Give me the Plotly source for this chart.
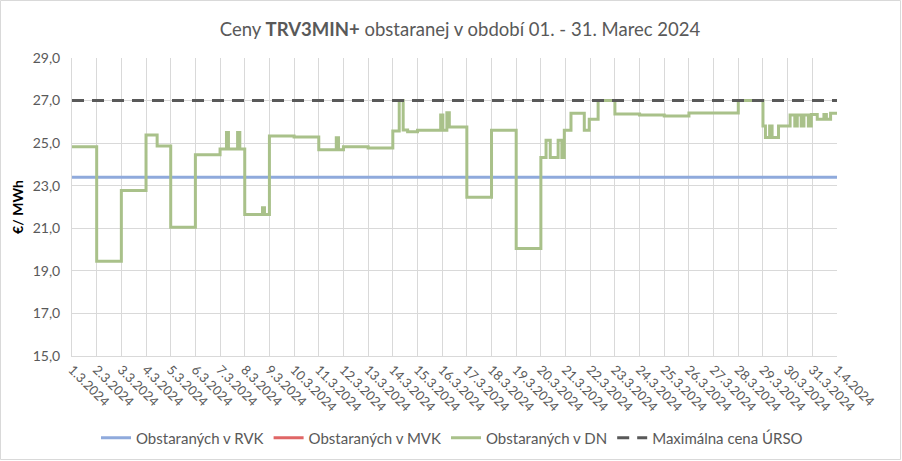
import plotly.graph_objects as go
import pandas as pd

# ---- data ----
month_start = "2024-03-01"
tick_labels = [f"{d}.3.2024" for d in range(1, 32)] + ["1.4.2024"]

rvk_value = 23.4
ursu_max = 27.0

# DN: change points (day offset from 1.3.2024 00:00) and value from that point on
dn_days = [0.0, 1.0, 2.0, 3.0, 3.45, 4.0, 5.0, 6.0, 6.26, 6.34, 6.71, 6.8,
           7.0, 7.72, 7.8, 8.0, 9.0, 10.0, 10.71, 10.8, 11.0, 12.0,
           13.0, 13.26, 13.42, 13.6, 14.0, 14.94, 15.03, 15.19, 15.29,
           16.0, 17.0, 18.0, 19.0, 19.21, 19.38, 19.7, 19.85, 19.95,
           20.22, 20.76, 20.96, 21.32, 22.0, 23.0, 24.0, 25.0, 27.0,
           28.0, 28.1, 28.27, 28.37, 28.63, 29.1, 29.29, 29.39, 29.55,
           29.66, 29.84, 29.96, 30.2, 30.47, 30.57, 30.74, 31.0]
dn_values = [24.83, 19.45, 22.78, 25.38, 24.87, 21.05, 24.45, 24.72, 25.5, 24.72, 25.5, 24.72,
             21.65, 21.96, 21.65, 25.34, 25.29, 24.69, 25.25, 24.69, 24.83, 24.77,
             25.57, 27.0, 25.62, 25.53, 25.6, 26.32, 25.6, 26.43, 25.76,
             22.46, 25.6, 20.05, 24.33, 25.14, 24.33, 25.14, 24.33, 25.6,
             26.4, 25.6, 26.12, 27.0, 26.37, 26.32, 26.28, 26.42, 27.0,
             25.8, 25.26, 25.8, 25.26, 25.8, 26.32, 25.8, 26.32, 25.8,
             26.32, 25.8, 26.35, 26.12, 26.35, 26.12, 26.4, 26.4]

# ---- build ----
t0 = pd.Timestamp(month_start)
tick_vals = [t0 + pd.Timedelta(days=i) for i in range(len(tick_labels))]
dn_x = [t0 + pd.Timedelta(days=d) for d in dn_days]
full_x = [tick_vals[0], tick_vals[-1]]

FONT = "Lato"
GRAY = "#595959"

fig = go.Figure()
fig.add_trace(go.Scatter(x=full_x, y=[rvk_value, rvk_value], mode="lines",
                         name="Obstaraných v RVK", line=dict(color="#8FAADC", width=3)))
fig.add_trace(go.Scatter(x=full_x, y=[None, None], mode="lines",
                         name="Obstaraných v MVK", line=dict(color="#E06666", width=3)))
fig.add_trace(go.Scatter(x=dn_x, y=dn_values, mode="lines", line_shape="hv",
                         name="Obstaraných v DN", line=dict(color="#A9C18A", width=3)))
fig.add_trace(go.Scatter(x=full_x, y=[ursu_max, ursu_max], mode="lines",
                         name="Maximálna cena ÚRSO",
                         line=dict(color="#595959", width=3, dash="12px,8px")))

W, H = 902, 461
L, R, T, B = 72, 65, 58, 105
pw, ph = W - L - R, H - T - B

fig.update_layout(
    width=W, height=H,
    margin=dict(l=L, r=R, t=T, b=B, autoexpand=False),
    paper_bgcolor="white", plot_bgcolor="white",
    separators=", ",
    font=dict(family=FONT, color=GRAY, size=12),
    title=dict(text="Ceny <b>TRV3MIN+</b> obstaranej v období 01. - 31. Marec 2024",
               x=460 / W, xanchor="center", y=1 - 30 / H, yanchor="middle",
               font=dict(family=FONT, size=18.5, color=GRAY)),
    showlegend=True,
    legend=dict(orientation="h", x=(452 - L) / pw, xanchor="center",
                y=-(438 - (T + ph)) / ph, yanchor="middle",
                font=dict(family=FONT, size=15, color=GRAY),
                itemwidth=30, bgcolor="rgba(0,0,0,0)"),
    xaxis=dict(type="date", range=[tick_vals[0], tick_vals[-1]],
               tickmode="array", tickvals=tick_vals, ticktext=tick_labels,
               tickangle=45, showgrid=True, gridcolor="#D9D9D9", gridwidth=1,
               showline=True, linecolor="#D9D9D9", linewidth=1, automargin=False,
               ticks="", tickfont=dict(family=FONT, size=13, color=GRAY)),
    yaxis=dict(range=[15, 29], dtick=2, tick0=15, tickformat=".1f",
               showgrid=True, gridcolor="#D9D9D9", gridwidth=1, automargin=False,
               showline=True, linecolor="#D9D9D9", linewidth=1, zeroline=False,
               ticks="", ticklabelstandoff=8,
               tickfont=dict(family=FONT, size=14, color=GRAY),
               title=dict(text="<b>€/ MWh</b>", font=dict(family=FONT, size=14, color="black"),
                          standoff=5)),
    shapes=[dict(type="rect", xref="paper", yref="paper",
                 x0=-(L - 0.5) / pw, x1=1 + (R - 1.5) / pw,
                 y0=-(B - 1.5) / ph, y1=1 + (T - 0.5) / ph,
                 line=dict(color="#D9D9D9", width=1), fillcolor="rgba(0,0,0,0)", layer="below")],
)

fig.write_html("out.html", config={"displayModeBar": False},
               post_script="document.body.style.margin='0px';document.body.style.overflow='hidden';")
